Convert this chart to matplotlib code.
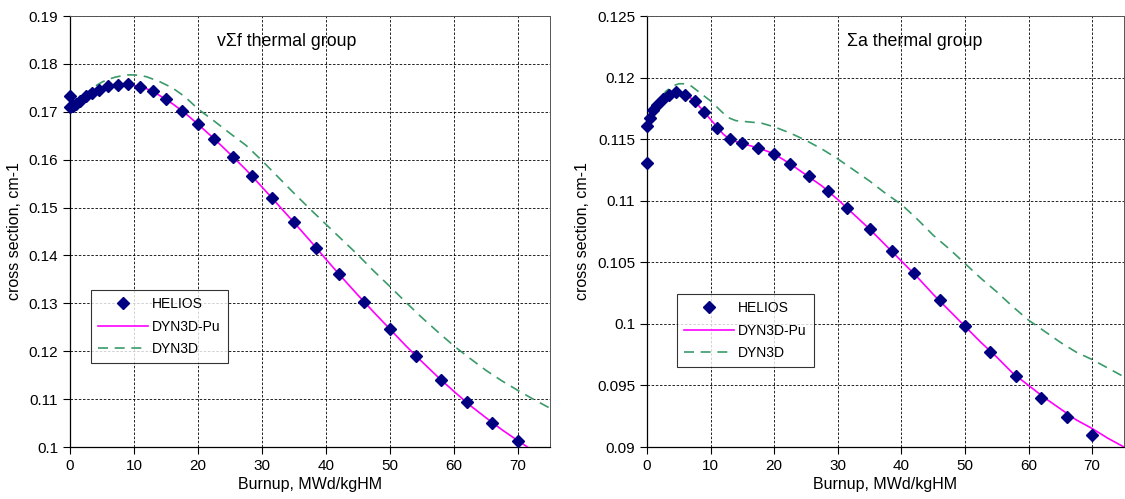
import matplotlib
matplotlib.use("Agg")
import matplotlib.pyplot as plt
from matplotlib.ticker import FuncFormatter, MultipleLocator

plt.rcParams['font.family'] = ['Liberation Sans', 'DejaVu Sans']

# HELIOS reference points (burnup, MWd/kgHM)
helios_burnup = [0, 0, 0.5, 1, 1.5, 2.5, 3.5, 4.5, 6, 7.5, 9, 11, 13, 15, 17.5,
                 20, 22.5, 25.5, 28.5, 31.5, 35, 38.5, 42, 46, 50, 54, 58, 62, 66, 70]
helios_nusigf = [0.1733, 0.1711, 0.1713, 0.1717, 0.1722, 0.1732, 0.1740, 0.1746,
                 0.1754, 0.1756, 0.1757, 0.1752, 0.1743, 0.1726, 0.1702, 0.1674,
                 0.1644, 0.1606, 0.1565, 0.1521, 0.1469, 0.1415, 0.1362, 0.1303,
                 0.1246, 0.1191, 0.1140, 0.1093, 0.1051, 0.1013]
helios_siga = [0.1131, 0.1161, 0.1167, 0.1174, 0.1178, 0.1183, 0.1186, 0.1188,
               0.1186, 0.1181, 0.1172, 0.1159, 0.1150, 0.1147, 0.1143, 0.1138,
               0.1130, 0.1120, 0.1108, 0.1094, 0.1077, 0.1059, 0.1041, 0.1019,
               0.0998, 0.0977, 0.0958, 0.0940, 0.0924, 0.0910]

# Model curves
curve_burnup = [0, 1, 2, 3, 4, 5, 6, 7, 8, 9, 10, 11, 12, 13, 14, 16, 18, 20,
                22.5, 25, 27.5, 30, 32.5, 35, 37.5, 40, 42.5, 45, 47.5, 50,
                52.5, 55, 57.5, 60, 62.5, 65, 67.5, 70, 72.5, 75]
dyn3dpu_nusigf = [0.1711, 0.1717, 0.1727, 0.1736, 0.1743, 0.1749, 0.1753, 0.1755,
                  0.1756, 0.1756, 0.1755, 0.1752, 0.1748, 0.1742, 0.1734, 0.1717,
                  0.1697, 0.1674, 0.1644, 0.1612, 0.1579, 0.1543, 0.1506, 0.1469,
                  0.1431, 0.1392, 0.1354, 0.1317, 0.1281, 0.1246, 0.1211, 0.1178,
                  0.1146, 0.1116, 0.1087, 0.1061, 0.1036, 0.1013, 0.0991, 0.0970]
dyn3d_nusigf = [0.1711, 0.1720, 0.1732, 0.1744, 0.1754, 0.1762, 0.1768, 0.1772,
                0.1775, 0.1777, 0.1777, 0.1776, 0.1773, 0.1768, 0.1763, 0.1750,
                0.1731, 0.1706, 0.1681, 0.1655, 0.1630, 0.1598, 0.1564, 0.1530,
                0.1497, 0.1465, 0.1433, 0.1401, 0.1367, 0.1335, 0.1302, 0.1270,
                0.1240, 0.1211, 0.1185, 0.1160, 0.1138, 0.1118, 0.1099, 0.1081]
dyn3dpu_siga = [0.1161, 0.1174, 0.1181, 0.1186, 0.1188, 0.1188, 0.1186, 0.1183,
                0.1178, 0.1172, 0.1166, 0.1160, 0.1154, 0.1150, 0.1148, 0.1145,
                0.1142, 0.1138, 0.1130, 0.1121, 0.1112, 0.1101, 0.1089, 0.1077,
                0.1064, 0.1051, 0.1038, 0.1024, 0.1011, 0.0998, 0.0985, 0.0973,
                0.0960, 0.0950, 0.0940, 0.0931, 0.0922, 0.0915, 0.0907, 0.0900]
dyn3d_siga = [0.1161, 0.1174, 0.1183, 0.1189, 0.1193, 0.1195, 0.1195, 0.1193,
              0.1189, 0.1185, 0.1181, 0.1176, 0.1171, 0.1167, 0.1165, 0.1164,
              0.1163, 0.1160, 0.1155, 0.1149, 0.1142, 0.1134, 0.1125, 0.1116,
              0.1106, 0.1097, 0.1085, 0.1072, 0.1061, 0.1049, 0.1037, 0.1026,
              0.1014, 0.1003, 0.0994, 0.0985, 0.0977, 0.0971, 0.0964, 0.0957]

fig = plt.figure(figsize=(11.25, 4.99), dpi=100)
ax1 = fig.add_axes([0.0622, 0.1042, 0.4267, 0.8637])
ax2 = fig.add_axes([0.5751, 0.1042, 0.4240, 0.8637])

fmt = FuncFormatter(lambda v, p: f"{v:g}")

def style(ax, ylim, ystep):
    ax.set_xlim(0, 75)
    ax.set_ylim(*ylim)
    ax.xaxis.set_major_locator(MultipleLocator(10))
    ax.yaxis.set_major_locator(MultipleLocator(ystep))
    ax.yaxis.set_major_formatter(fmt)
    ax.grid(True, color='black', linestyle=(0, (3, 2)), linewidth=0.6)
    ax.set_axisbelow(True)
    for s in ['top', 'right']:
        ax.spines[s].set_linewidth(0.7)
        ax.spines[s].set_color('#555555')
    for s in ['left', 'bottom']:
        ax.spines[s].set_linewidth(0.9)
    ax.tick_params(direction='out', length=5, width=0.8, labelsize=11)
    ax.set_xlabel('Burnup, MWd/kgHM', fontsize=11.5, labelpad=3)
    ax.set_ylabel('cross section, cm-1', fontsize=11.5, labelpad=5)

def draw(ax, hv, pu, d3):
    ax.plot(curve_burnup, pu, color='#FF00FF', lw=1.2, label='DYN3D-Pu', zorder=3)
    ax.plot(curve_burnup, d3, color='#3A9A6A', lw=1.2, linestyle=(0, (6, 4)),
            label='DYN3D', zorder=2)
    ax.plot(helios_burnup, hv, linestyle='none', marker='D', color='#000080',
            markersize=6.5, label='HELIOS', zorder=4, clip_on=False)
    h, l = ax.get_legend_handles_labels()
    order = [2, 0, 1]
    return [h[i] for i in order], [l[i] for i in order]

legkw = dict(loc='lower left', fontsize=10, frameon=True, fancybox=False,
             edgecolor='black', handlelength=3.6, borderpad=0.5,
             labelspacing=0.6, handletextpad=0.3, borderaxespad=0)

style(ax1, (0.1, 0.19), 0.01)
h, l = draw(ax1, helios_nusigf, dyn3dpu_nusigf, dyn3d_nusigf)
leg = ax1.legend(h, l, bbox_to_anchor=(0.044, 0.195), **legkw)
leg.get_frame().set_linewidth(0.8)
ax1.text(33.9, 0.1846, 'vΣf thermal group', fontsize=12.8, ha='center', va='center')

style(ax2, (0.09, 0.125), 0.005)
h, l = draw(ax2, helios_siga, dyn3dpu_siga, dyn3d_siga)
leg = ax2.legend(h, l, bbox_to_anchor=(0.063, 0.186), **legkw)
leg.get_frame().set_linewidth(0.8)
ax2.text(42.1, 0.1229, 'Σa thermal group', fontsize=12.8, ha='center', va='center')

fig.savefig('out.png', dpi=100)
